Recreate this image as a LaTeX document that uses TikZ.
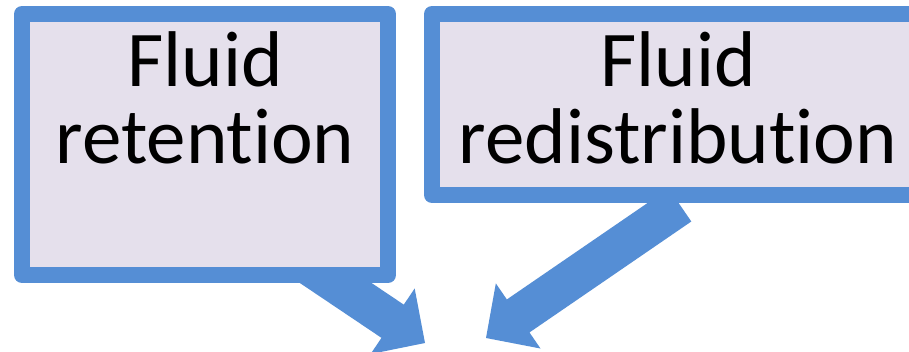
\documentclass[tikz,border=0pt]{standalone}
\usepackage{fontspec}
\setmainfont{Carlito}[Ligatures=NoCommon]
\usetikzlibrary{calc,backgrounds}
\definecolor{boxedge}{HTML}{558ED5}
\definecolor{boxfill}{HTML}{E5E0EC}
\tikzset{
  panel/.style={rectangle, draw=boxedge, fill=boxfill, line width=16pt,
    line join=round, inner sep=0pt},
  caption/.style={anchor=north, align=center, inner sep=0pt,
    font=\fontsize{79}{77}\selectfont},
  % broad block arrow: 40pt shaft, 79pt wide head, 39pt long head
  fat arrow/.style={fill=boxedge, to path={
       ($(\tikztostart)!20pt!90:(\tikztotarget)$)
    -- ($(\tikztotarget)!39pt!(\tikztostart)!20pt!90:(\tikztotarget)$)
    -- ($(\tikztotarget)!39pt!(\tikztostart)!39.5pt!90:(\tikztotarget)$)
    -- (\tikztotarget)
    -- ($(\tikztotarget)!39pt!(\tikztostart)!39.5pt!-90:(\tikztotarget)$)
    -- ($(\tikztotarget)!39pt!(\tikztostart)!20pt!-90:(\tikztotarget)$)
    -- ($(\tikztostart)!20pt!-90:(\tikztotarget)$)
    -- cycle}}
}
\begin{document}
\begin{tikzpicture}[x=1pt, y=-1pt]
  \useasboundingbox (0,0) rectangle (909,352);

  % the two boxes
  \node[panel, minimum width=366pt, minimum height=261pt] (lbox) at (205,144.5) {};
  \node[panel, minimum width=492pt, minimum height=181pt] (rbox) at (678,104.5) {};

  \node[caption] (ltext) at (205,31) {Fluid\\retention};
  \node[caption] (rtext) at (678,31) {Fluid\\redistribution};

  % arrow ends
  \coordinate (ltail) at ($(lbox.south)+(95,-24)$);
  \coordinate (ltip) at (425,343);
  \coordinate (rtail) at ($(rbox.south)+(2,2)$);
  \coordinate (rtip) at (486,338);

  \begin{pgfonlayer}{background}
    \fill[white] (0,0) rectangle (909,352);
    \path[fat arrow] (ltail) to (ltip);
    \path[fat arrow] (rtail) to (rtip);
  \end{pgfonlayer}
\end{tikzpicture}
\end{document}
